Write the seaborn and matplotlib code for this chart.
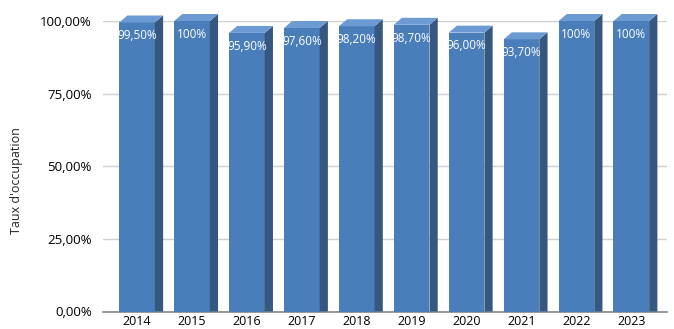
import matplotlib
matplotlib.use("Agg")
import matplotlib.pyplot as plt
from matplotlib.patches import Polygon
import pandas as pd
import seaborn as sns

years = ["2014", "2015", "2016", "2017", "2018", "2019", "2020", "2021", "2022", "2023"]
occupation = [99.5, 100.0, 95.9, 97.6, 98.2, 98.7, 96.0, 93.7, 100.0, 100.0]
y_ticks = [0, 25, 50, 75, 100]
y_label = "Taux d'occupation"

FRONT = "#4A7EBB"
SIDE = "#36577F"
TOP = "#6C9AD3"

sns.set_theme(style="white")
plt.rcParams["font.family"] = ["Open Sans", "DejaVu Sans"]

df = pd.DataFrame({"year": years, "value": occupation})

fig = plt.figure(figsize=(6.74, 3.29), dpi=100)
ax = fig.add_axes([103 / 674, 17.5 / 329, 564 / 674, 290.5 / 329])

sns.barplot(data=df, x="year", y="value", color=FRONT, width=0.65,
            saturation=1, ax=ax, zorder=3)

depth_x = 0.15
depth_y = 2.4
for patch, v in zip(ax.patches, occupation):
    patch.set_edgecolor("none")
    x0 = patch.get_x()
    w = patch.get_width()
    x1 = x0 + w
    h = patch.get_height()
    side = Polygon([(x1, 0), (x1 + depth_x, 0), (x1 + depth_x, h + depth_y),
                    (x1, h)], closed=True, facecolor=SIDE, edgecolor="none",
                   zorder=3, clip_on=False)
    top = Polygon([(x0, h), (x1, h), (x1 + depth_x, h + depth_y),
                   (x0 + depth_x, h + depth_y)], closed=True, facecolor=TOP,
                  edgecolor="none", zorder=3, clip_on=False)
    ax.add_patch(side)
    ax.add_patch(top)
    label = "100%" if v >= 100 else f"{v:.2f}".replace(".", ",") + "%"
    ax.text(x0 + w / 2, h - 4.6, label, ha="center", va="center",
            color="white", fontsize=8.5, zorder=4)

ax.set_xlim(-0.62, 9.65)
ax.set_ylim(0, 100)
ax.set_yticks(y_ticks)
ax.set_yticklabels([f"{t:.2f}".replace(".", ",") + "%" for t in y_ticks])
ax.yaxis.grid(True, color="#D0D0D0", linewidth=1, zorder=0)
ax.set_axisbelow(True)
for s in ["top", "right", "left"]:
    ax.spines[s].set_visible(False)
ax.spines["bottom"].set_color("#868686")
ax.spines["bottom"].set_linewidth(1.2)
ax.tick_params(axis="both", length=0, labelsize=9.5, colors="#000000")
ax.tick_params(axis="y", pad=8)
ax.tick_params(axis="x", labelsize=9, pad=2.5)
ax.set_xlabel("")
ax.set_ylabel(y_label, fontsize=9)
ax.yaxis.set_label_coords(-0.142, 0.45)

fig.savefig("out.png", dpi=100)
